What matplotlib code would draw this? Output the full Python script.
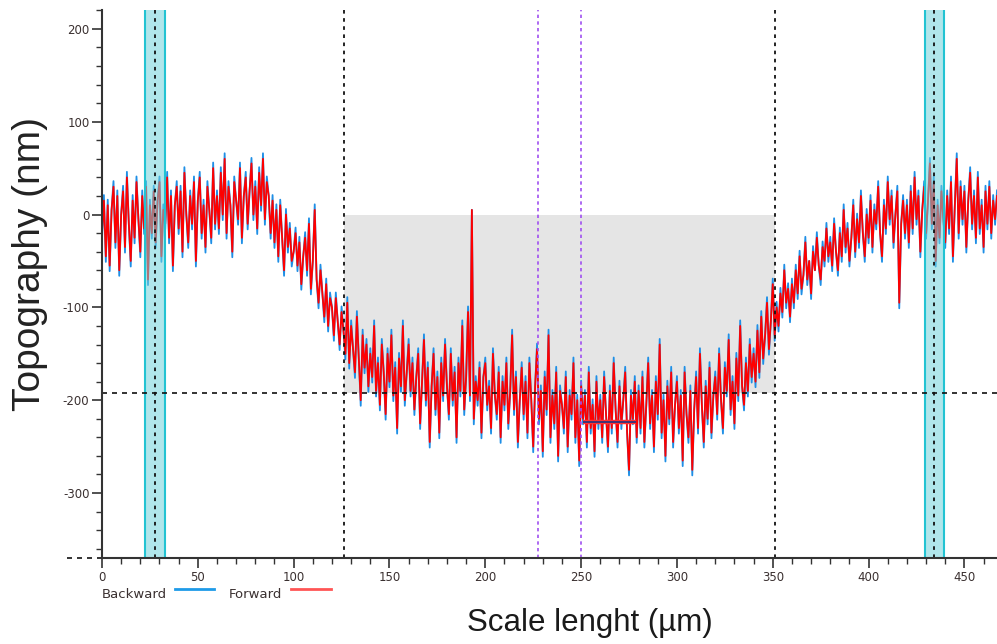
import numpy as np
import matplotlib
matplotlib.use("Agg")
import matplotlib.pyplot as plt
from matplotlib.lines import Line2D

plt.rcParams['axes.unicode_minus'] = False
plt.rcParams['font.family'] = ['DejaVu Sans']

# ---------------- data ----------------
x_start, x_step = 0, 1
forward = [
    -20, 15, -45, 10, -55, 5, 30, -30, 20, -60, 0, 25, -35, 40, -10, -50, 15, -25, 35, -5,
    -40, 20, -15, 30, -70, 10, -20, 25, -30, 15, 35, -45, 5, -10, 40, -25, 20, -55, 10, 30,
    -15, 25, -40, 45, 0, -30, 20, -10, 35, -50, 15, 40, -20, 10, -35, 30, 5, -25, 50, -10,
    20, -15, 45, 0, 60, -20, 30, 10, -40, 35, 15, -5, 50, -25, 20, 40, -10, 25, 55, 0,
    30, -15, 45, 10, 60, -5, 35, 20, -20, 15, -30, 5, -45, 10, -25, -60, 0, -35, -15, -50,
    -40, -20, -55, -30, -75, -45, -25, -60, -10, -80, -50, 5, -70, -95, -60, -85, -110, -75, -120, -90,
    -100, -130, -90, -115, -140, -105, -125, -150, -95, -160, -120, -145, -170, -110, -155, -200, -130, -165, -140, -185,
    -150, -175, -120, -190, -160, -205, -140, -170, -215, -150, -180, -130, -195, -165, -230, -155, -185, -120, -200, -170,
    -140, -190, -160, -210, -175, -150, -225, -180, -135, -200, -165, -245, -185, -150, -210, -175, -235, -160, -195, -140,
    -185, -215, -150, -200, -170, -240, -160, -190, -120, -210, -175, -105, -195, 5, -220, -180, -200, -165, -235, -175,
    -160, -205, -185, -230, -150, -195, -215, -170, -240, -180, -205, -160, -225, -190, -130, -210, -175, -245, -200, -165,
    -215, -180, -235, -160, -200, -250, -185, -145, -220, -190, -255, -175, -210, -130, -240, -195, -225, -170, -260, -190,
    -205, -230, -175, -250, -195, -215, -160, -240, -200, -265, -185, -220, -195, -245, -170, -230, -205, -255, -180, -225,
    -200, -240, -175, -215, -250, -190, -230, -160, -210, -245, -185, -225, -200, -170, -235, -275, -195, -220, -180, -240,
    -190, -230, -175, -245, -205, -160, -225, -195, -250, -180, -215, -140, -235, -200, -260, -185, -220, -170, -245, -205,
    -180, -230, -195, -265, -170, -215, -240, -190, -275, -210, -175, -230, -150, -205, -245, -185, -220, -165, -235, -195,
    -175, -215, -150, -200, -230, -165, -190, -135, -210, -180, -225, -155, -195, -120, -185, -205, -160, -190, -140, -175,
    -150, -180, -125, -170, -110, -155, -130, -95, -145, -115, -75, -130, -100, -120, -85, -105, -60, -95, -80, -110,
    -75, -95, -60, -85, -45, -80, -65, -30, -70, -50, -85, -40, -60, -25, -55, -70, -35, -50, -15, -45,
    -30, -55, -10, -40, -60, -20, -45, 5, -35, -15, -50, -25, 10, -40, -5, -30, 20, -20, -45, 0,
    -25, 15, -35, 5, -10, 30, -20, -45, 10, -15, 35, -5, 20, -30, 0, 25, -95, -10, 15, -20,
    10, -30, 25, -15, 40, -5, 20, -40, 5, 30, -20, 15, 55, -10, 35, -50, 10, -25, 25, -5,
    -30, 20, -15, 35, -45, 10, 60, -20, 30, -5, 25, -35, 15, 45, -10, 20, -25, 40, -15, 10,
    -35, 25, -10, 30, -20, 15, -5, 20,
]

backward = [
    -26, 21, -51, 16, -61, 5, 36, -36, 26, -66, 0, 31, -41, 46, -10, -56, 21, -31, 41, -5,
    -46, 26, -21, 36, -76, 16, -26, 31, -36, 15, 41, -51, 11, -16, 46, -31, 26, -61, 10, 36,
    -21, 31, -46, 51, 0, -36, 26, -16, 41, -56, 15, 46, -26, 16, -41, 36, 5, -31, 56, -16,
    26, -21, 51, -6, 66, -26, 36, 10, -46, 41, 15, -11, 56, -31, 20, 46, -16, 25, 61, -6,
    36, -21, 51, 4, 66, -11, 41, 20, -26, 21, -36, 11, -51, 16, -25, -66, 6, -41, -9, -56,
    -40, -14, -61, -24, -81, -45, -19, -66, -4, -86, -50, 11, -70, -101, -54, -85, -116, -69, -126, -84,
    -100, -136, -84, -115, -146, -99, -125, -156, -89, -166, -114, -145, -176, -104, -155, -206, -124, -171, -134, -191,
    -144, -181, -114, -196, -154, -211, -134, -170, -221, -144, -186, -124, -201, -159, -236, -149, -191, -114, -206, -170,
    -134, -196, -154, -216, -175, -144, -231, -180, -129, -206, -159, -251, -185, -144, -216, -169, -241, -154, -201, -134,
    -185, -221, -144, -206, -164, -246, -154, -196, -114, -216, -175, -99, -201, 5, -226, -174, -206, -159, -241, -175,
    -154, -211, -179, -236, -144, -195, -221, -164, -246, -174, -211, -154, -231, -190, -124, -216, -169, -251, -200, -159,
    -221, -174, -241, -154, -200, -256, -185, -139, -226, -184, -261, -169, -216, -124, -246, -189, -231, -164, -266, -184,
    -205, -236, -169, -256, -189, -221, -154, -246, -194, -271, -179, -226, -189, -251, -164, -236, -199, -261, -174, -231,
    -194, -246, -169, -215, -256, -184, -236, -154, -210, -251, -179, -231, -200, -164, -235, -281, -189, -226, -174, -246,
    -184, -236, -169, -251, -205, -154, -231, -189, -256, -174, -221, -134, -241, -194, -266, -179, -226, -164, -251, -205,
    -174, -236, -189, -271, -164, -215, -246, -184, -281, -210, -169, -236, -144, -205, -251, -179, -226, -159, -241, -195,
    -169, -221, -144, -200, -236, -159, -196, -129, -216, -174, -231, -149, -201, -114, -185, -211, -154, -196, -134, -181,
    -144, -186, -119, -176, -104, -161, -130, -89, -151, -115, -69, -136, -94, -126, -79, -111, -54, -101, -74, -116,
    -69, -101, -54, -91, -39, -86, -65, -24, -76, -50, -91, -34, -60, -19, -55, -76, -29, -56, -9, -51,
    -24, -61, -4, -40, -66, -14, -51, 11, -41, -9, -56, -25, 16, -46, 1, -36, 26, -20, -51, 6,
    -31, 21, -41, 11, -16, 36, -20, -51, 16, -21, 41, -11, 26, -36, 0, 31, -101, -10, 21, -26,
    16, -36, 31, -21, 46, -11, 26, -46, 5, 36, -26, 15, 61, -16, 41, -56, 16, -31, 31, -5,
    -36, 26, -21, 41, -51, 10, 66, -26, 36, -11, 31, -41, 15, 51, -16, 26, -31, 46, -21, 16,
    -41, 31, -16, 36, -26, 21, -11, 26,
]

# cursor / annotation positions (µm, nm)
black_cursors_x = [27.7, 126.3, 351.3, 434.2]
purple_cursors_x = [227.6, 250.0]
cyan_bands = [(22.4, 32.9), (429.5, 439.5)]
level_y = -192.5
fill_x = (126.3, 351.3)
fill_y = (0, -192.5)
marker_x = (250.9, 278.7)
marker_y = -223.7

xticks = [0, 50, 100, 150, 200, 250, 300, 350, 400, 450]
yticks = [200, 100, 0, -100, -200, -300]
xlim = (0, 467)
ylim = (-370, 220)

# ---------------- plot ----------------
W, H = 997, 644
fig = plt.figure(figsize=(W / 100, H / 100), dpi=100)
ax = fig.add_axes([0.1023, 0.1335, 0.8977, 0.8505])

fx = x_start + x_step * np.arange(len(forward))
bx = x_start + x_step * np.arange(len(backward))

ax.fill_between(fill_x, fill_y[0], fill_y[1], color='#e5e5e5', zorder=0, linewidth=0)

ax.plot(bx, backward, color='#1e8fe6', lw=1.3, zorder=2)
ax.plot(fx, forward, color='#ff0000', lw=1.3, zorder=3)

for x0, x1 in cyan_bands:
    ax.axvspan(x0, x1, facecolor='#6fd3dc', alpha=0.55, edgecolor='none', zorder=4)
    ax.axvline(x0, color='#22c3d2', lw=1.5, zorder=5)
    ax.axvline(x1, color='#22c3d2', lw=1.5, zorder=5)

for x in black_cursors_x:
    ax.axvline(x, color='#111111', lw=1.3, ls=(0, (2, 2.5)), zorder=6)
for x in purple_cursors_x:
    ax.axvline(x, color='#a050f0', lw=1.2, ls=(0, (2, 2)), zorder=6)
ax.axhline(level_y, color='#111111', lw=1.2, ls=(0, (3, 3)), zorder=6)
ax.plot([-18, 0], [ylim[0], ylim[0]], color='#111111', lw=1.2, ls=(0, (3, 3)),
        clip_on=False, zorder=6)

ax.plot(marker_x, [marker_y, marker_y], color='#ff3030', lw=3.2, zorder=7, solid_capstyle='butt')
ax.plot(marker_x, [marker_y, marker_y], color='#203080', lw=1.2, zorder=8, solid_capstyle='butt')

ax.set_xlim(*xlim)
ax.set_ylim(*ylim)
ax.set_xticks(xticks)
ax.set_yticks(yticks)
ax.set_xticks(np.arange(0, 468, 10), minor=True)
ax.set_yticks(np.arange(-360, 221, 20), minor=True)

for s in ['top', 'right']:
    ax.spines[s].set_visible(False)
for s in ['left', 'bottom']:
    ax.spines[s].set_color('#333333')
    ax.spines[s].set_linewidth(1.5)
    ax.spines[s].set_zorder(10)

ax.tick_params(axis='both', which='major', length=7, width=1.2, color='#333333',
               labelsize=8.5, labelcolor='#3a3030', pad=2)
ax.tick_params(axis='both', which='minor', length=4, width=1.0, color='#333333')

# axis titles
fig.text(590 / W, 1 - 623 / H, 'Scale lenght (µm)', fontsize=22.5, color='#1a1a1a',
         family=['Liberation Sans', 'DejaVu Sans'], ha='center', va='center')
fig.text(30 / W, 1 - 264 / H, 'Topography (nm)', fontsize=28, color='#222222',
         family=['Liberation Sans', 'DejaVu Sans'], rotation=90, ha='center', va='center')

# legend
fig.text(102 / W, 1 - 594 / H, 'Backward', fontsize=9.5, color='#3a3030',
         va='center', ha='left')
fig.add_artist(Line2D([175 / W, 214 / W], [1 - 589 / H, 1 - 589 / H],
                      transform=fig.transFigure, color='#1e9be8', lw=2))
fig.text(229 / W, 1 - 594 / H, 'Forward', fontsize=9.5, color='#3a3030',
         va='center', ha='left')
fig.add_artist(Line2D([291 / W, 331 / W], [1 - 589 / H, 1 - 589 / H],
                      transform=fig.transFigure, color='#ff5555', lw=2))

fig.savefig('out.png', dpi=100)
